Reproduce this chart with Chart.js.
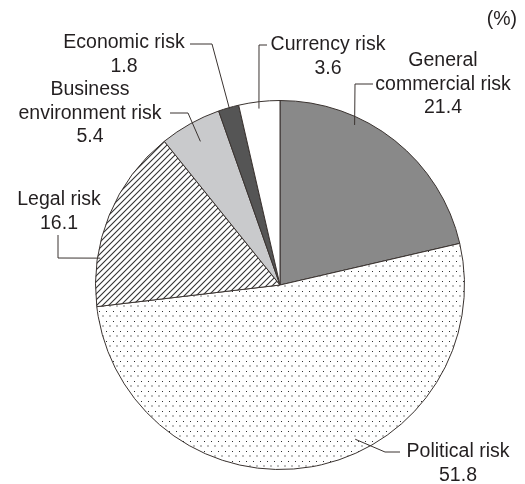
<!DOCTYPE html>
<html>
    <head>
        <meta charset="utf-8">
        <title>Risk breakdown</title>
        <script src="https://cdn.jsdelivr.net/npm/chart.js@4.4.0/dist/chart.umd.min.js"></script>
        <style>
            body { margin: 0; background: #fff; }
            canvas { display: block; }
        </style>
    </head>
    <body>
        <canvas id="chart" width="525" height="484"></canvas>

        <script>
            // shares in %, clockwise from 12 o'clock
            const categories = ['General commercial risk', 'Political risk', 'Legal risk',
                                'Business environment risk', 'Economic risk', 'Currency risk'];
            const shares = [21.4, 51.8, 16.1, 5.4, 1.8, 3.6];
            const unitLabel = '(%)';

            const ink = '#3a3330';
            const textColor = '#231f20';

            // dotted fill: dark dots with grey dots between rows
            function dotPattern(){
                const c = document.createElement('canvas');
                c.width = 7; c.height = 10;
                const g = c.getContext('2d');
                g.fillStyle = '#fff';
                g.fillRect(0, 0, 7, 10);
                g.fillStyle = '#2a2a2a';
                g.fillRect(1, 1, 1, 1);
                g.fillStyle = '#bdbdbd';
                g.fillRect(4, 5, 2, 2);
                return g.createPattern(c, 'repeat');
            }

            // diagonal hatching "/"
            function hatchPattern(){
                const c = document.createElement('canvas');
                c.width = 6; c.height = 6;
                const g = c.getContext('2d');
                g.fillStyle = '#fff';
                g.fillRect(0, 0, 6, 6);
                g.strokeStyle = '#333';
                g.lineWidth = 1.1;
                g.beginPath();
                g.moveTo(-1, 7); g.lineTo(7, -1);
                g.moveTo(-1, 1); g.lineTo(1, -1);
                g.moveTo(5, 7); g.lineTo(7, 5);
                g.stroke();
                return g.createPattern(c, 'repeat');
            }

            const fills = ['#898989', dotPattern(), hatchPattern(), '#c9cacc', '#555555', '#ffffff'];

            // label layout: text lines, centre x, first line y, leader path, anchor (deg, radius fraction)
            const callouts = [
                {lines: ['General', 'commercial risk'], cx: 443, y: 61, path: [[373, 84], [355, 84]], deg: 25, r: 0.957},
                {lines: ['Political risk'], cx: 458, y: 452, path: [[400, 452], [385, 452]], deg: 154, r: 0.93},
                {lines: ['Legal risk'], cx: 59, y: 200, path: [[58, 235], [58, 258]], deg: 278.5, r: 0.985},
                {lines: ['Business', 'environment risk'], cx: 90, y: 90, path: [[170, 113], [188, 113]], deg: 331, r: 0.89},
                {lines: ['Economic risk'], cx: 124, y: 43, path: [[190, 44], [212, 44]], deg: 344, r: 0.995},
                {lines: ['Currency risk'], cx: 328, y: 45, path: [[267, 45], [259, 45]], deg: 353.2, r: 0.963}
            ];

            const calloutPlugin = {
                id: 'callouts',
                afterDraw(chart){
                    const ctx = chart.ctx;
                    const arc = chart.getDatasetMeta(0).data[0];
                    const ox = arc.x, oy = arc.y, R = arc.outerRadius;
                    ctx.save();
                    ctx.font = '19.5px "Liberation Sans", Arial, sans-serif';
                    ctx.fillStyle = textColor;
                    ctx.textAlign = 'center';
                    ctx.textBaseline = 'middle';
                    callouts.forEach((c, i) => {
                        const rows = c.lines.concat([shares[i].toFixed(1)]);
                        rows.forEach((t, k) => ctx.fillText(t, c.cx, c.y + k * 23.5));
                        const a = c.deg * Math.PI / 180;
                        const ax = ox + R * c.r * Math.sin(a);
                        const ay = oy - R * c.r * Math.cos(a);
                        ctx.strokeStyle = ink;
                        ctx.lineWidth = 1;
                        ctx.beginPath();
                        ctx.moveTo(c.path[0][0], c.path[0][1]);
                        c.path.slice(1).forEach(p => ctx.lineTo(p[0], p[1]));
                        ctx.lineTo(ax, ay);
                        ctx.stroke();
                    });
                    ctx.textAlign = 'right';
                    ctx.fillText(unitLabel, 517, 20);
                    ctx.restore();
                }
            };

            const ctx = document.getElementById('chart').getContext('2d');
            const myChart = new Chart(ctx, {
                type: 'pie',
                data: {
                    labels: categories,
                    datasets: [{
                        data: shares,
                        backgroundColor: fills,
                        borderColor: ink,
                        borderWidth: 1
                    }]
                },
                options: {
                    responsive: false,
                    animation: false,
                    layout: {
                        padding: {left: 95, right: 60, top: 100, bottom: 14}
                    },
                    plugins: {
                        legend: {display: false},
                        tooltip: {enabled: false}
                    }
                },
                plugins: [calloutPlugin]
            });
        </script>
    </body>
</html>
